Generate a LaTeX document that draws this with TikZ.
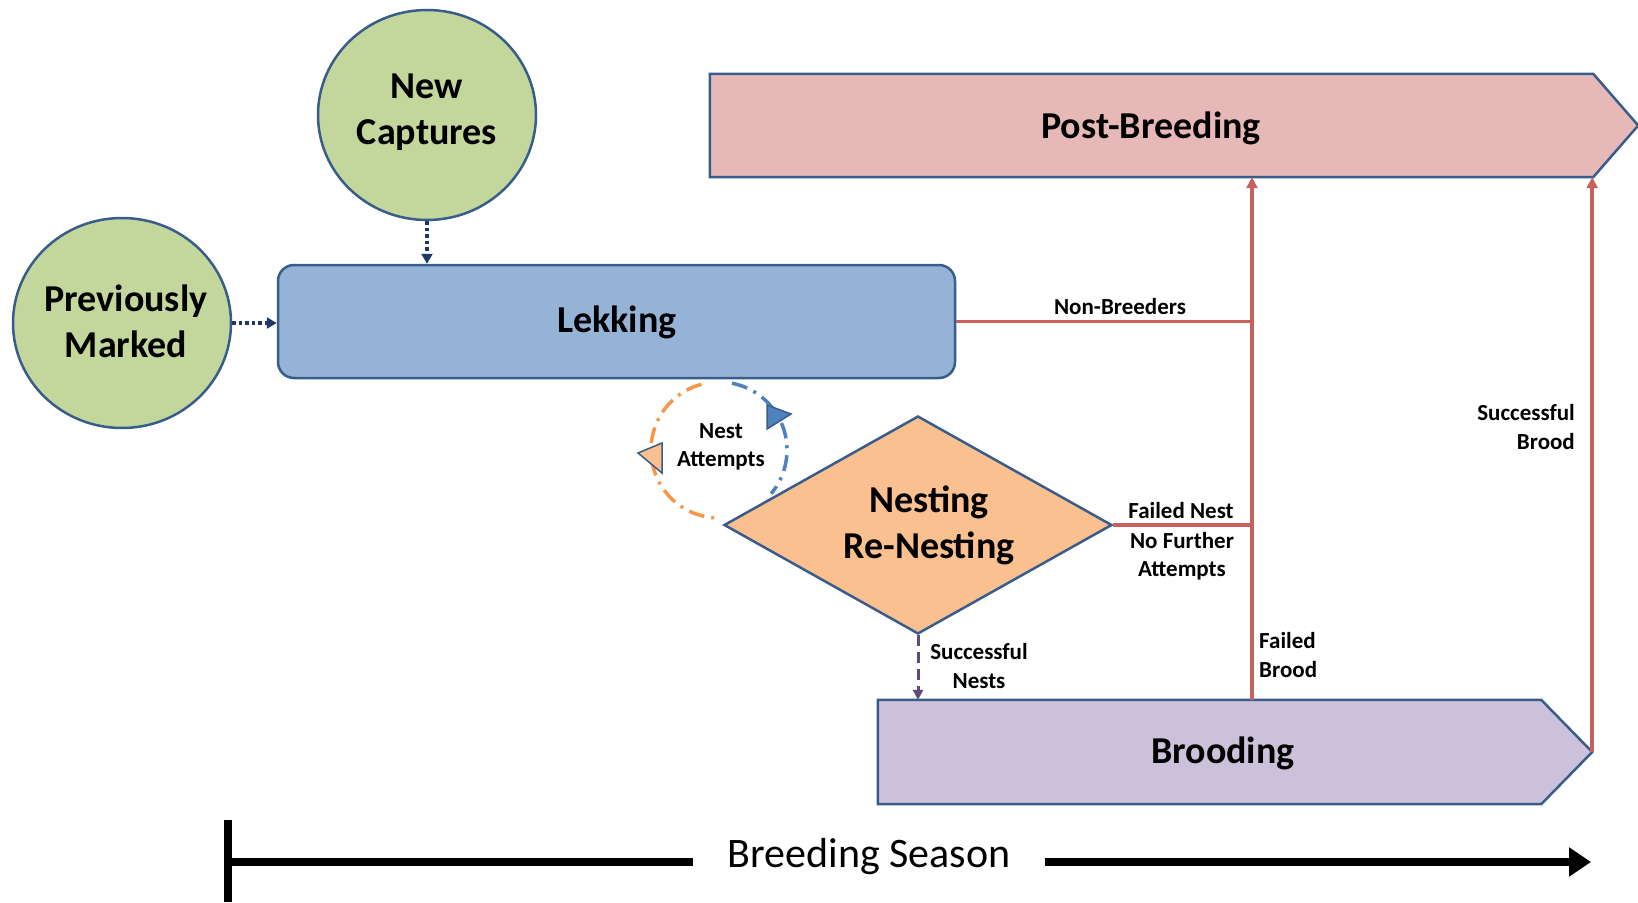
\documentclass[tikz,border=0pt]{standalone}
\usepackage{fontspec}
\setmainfont{Carlito}
\usetikzlibrary{arrows.meta,shapes.geometric}
\definecolor{outl}{HTML}{385D8A}
\definecolor{grn}{HTML}{C3D69B}
\definecolor{lekc}{HTML}{95B3D7}
\definecolor{postc}{HTML}{E6B9B8}
\definecolor{broodc}{HTML}{CCC1DA}
\definecolor{nestc}{HTML}{FAC090}
\definecolor{redl}{HTML}{C8605E}
\definecolor{purp}{HTML}{5F497A}
\definecolor{navy}{HTML}{1F3864}
\definecolor{orng}{HTML}{F79646}
\definecolor{blu}{HTML}{4F81BD}
\begin{document}
\begin{tikzpicture}[x=1pt,y=-1pt,
  bigtxt/.style={font=\fontsize{38}{46}\selectfont\bfseries, align=center},
  smalltxt/.style={font=\fontsize{23}{28.5}\selectfont\bfseries, align=center, inner sep=0pt},
  circ/.style={ellipse, draw=outl, line width=2.5pt, fill=grn, inner sep=0pt},
  shapeline/.style={draw=outl, line width=2.5pt},
  dotarrow/.style={draw=navy, line width=3.5pt, dash pattern=on 3.5pt off 3pt, -{Triangle[length=10pt,width=11pt]}},
  redline/.style={draw=redl, line width=3.5pt},
  redarrow/.style={draw=redl, line width=3.5pt, -{Triangle[length=11pt,width=11pt]}},
  looparc/.style={line width=3.5pt, dash pattern=on 16pt off 7pt on 3pt off 7pt},
  axisline/.style={line width=8pt, draw=black}
]
\useasboundingbox (0,0) rectangle (1638,902);

% Nest attempts loop (behind shapes)
\draw[looparc, draw=orng] (719,450) ++(255:68) arc[start angle=255, end angle=92, radius=68];
\draw[looparc, draw=blu] (719,450) ++(-79:68) arc[start angle=-79, end angle=40, radius=68];
\filldraw[fill=nestc, draw=outl, line width=1.5pt] (638,453) -- (662,443) -- (662,473) -- cycle;
\filldraw[fill=blu, draw=outl, line width=1.5pt] (767,405) -- (791,414) -- (767,429) -- cycle;
\node[smalltxt] (att) at (721,447) {Nest\\Attempts};

% Circles
\node[circ, minimum width=218pt, minimum height=210pt] (newc) at (427,115) {};
\node[bigtxt] at (427,112) {New\\Captures};
\node[circ, minimum width=218pt, minimum height=210pt] (prev) at (122,323) {};
\node[bigtxt] at (126,321) {Previously\\Marked};

% Lekking
\node[shapeline, fill=lekc, rounded corners=16pt, minimum width=677pt, minimum height=113pt, inner sep=0pt] (lek) at (616.5,321.5) {};
\node[bigtxt] at (617,322) {Lekking};

% Post-Breeding
\node[minimum width=883pt, minimum height=103pt, inner sep=0pt] (post) at (1151.5,125.5) {};
\filldraw[shapeline, fill=postc] (post.north west) -- (post.north east) -- ([xshift=45pt]post.east) -- (post.south east) -- (post.south west) -- cycle;
\node[bigtxt] at (1151,128) {Post-Breeding};

% Brooding
\node[minimum width=663pt, minimum height=104pt, inner sep=0pt] (brood) at (1209.5,752) {};
\filldraw[shapeline, fill=broodc] (brood.north west) -- (brood.north east) -- ([xshift=51pt]brood.east) -- (brood.south east) -- (brood.south west) -- cycle;
\coordinate (btip) at ([xshift=51pt]brood.east);
\node[bigtxt] at (1223,753) {Brooding};

% Nesting diamond
\node[diamond, shapeline, fill=nestc, minimum width=388pt, minimum height=218pt, inner sep=0pt] (nest) at (918,525) {};
\node[bigtxt] at (929,525) {Nesting\\Re-Nesting};

% dotted arrows
\draw[dotarrow] (newc.south) -- (newc.south |- lek.north);
\draw[dotarrow] (prev.east) -- (prev.east -| lek.west);

% red connectors
\coordinate (jx) at (1252,0);
\draw[redline] (lek.east) -- (lek.east -| jx);
\draw[redline] (nest.east) -- (nest.east -| jx);
\draw[redarrow] (brood.north -| jx) -- (post.south -| jx);
\draw[redarrow] (btip) -- (btip |- post.south);

% purple dashed
\draw[draw=purp, line width=3pt, dash pattern=on 11pt off 6pt, -{Triangle[length=10pt,width=10pt]}] (nest.south) -- (nest.south |- brood.north);

% labels
\node[smalltxt] at (1120,307) {Non-Breeders};
\node[smalltxt] at (1181,511) {Failed Nest};
\node[smalltxt] at (1182,556) {No Further\\Attempts};
\node[smalltxt, align=right, anchor=east] at (1575,427) {Successful\\Brood};
\node[smalltxt, align=left, anchor=west] at (1259,655) {Failed\\Brood};
\node[smalltxt] at (979,666) {Successful\\Nests};

% Breeding season axis
\coordinate (barT) at (228,820);
\coordinate (barB) at (228,902);
\coordinate (axL) at (228,862);
\coordinate (axR) at (1591,862);
\node[font=\fontsize{42}{50}\selectfont, inner xsep=34pt, inner ysep=0pt] (bs) at (869,857) {Breeding Season};
\draw[axisline] (barT) -- (barB);
\draw[axisline] (axL) -- (axL -| bs.west);
\draw[axisline, -{Triangle[length=22pt,width=28pt]}] (axL -| bs.east) -- (axR);
\end{tikzpicture}
\end{document}
